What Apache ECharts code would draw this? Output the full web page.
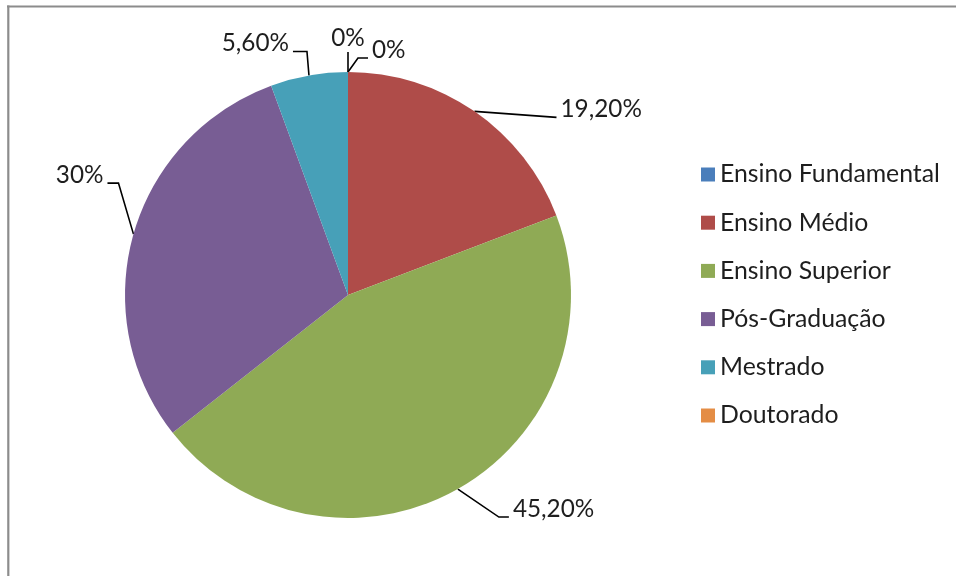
<!DOCTYPE html>
<html>
<head>
<meta charset="utf-8">
<script src="https://cdn.jsdelivr.net/npm/echarts@6/dist/echarts.min.js"></script>
<style>
html,body{margin:0;padding:0;background:#fff;}
#chart{width:956px;height:576px;}
</style>
</head>
<body>
<div id="chart"></div>
<script>
// ---- data ----
const categories = ['Ensino Fundamental', 'Ensino Médio', 'Ensino Superior', 'Pós-Graduação', 'Mestrado', 'Doutorado'];
const values = [0, 19.2, 45.2, 30, 5.6, 0];
const colors = ['#4A7EBB', '#AF4C49', '#8FAA55', '#785D94', '#47A0B8', '#E48D45'];

// leader-line shapes (bend from slice edge, horizontal run, label side)
const guides = [
  { bx: 0,   by: -20, h: 0,   side: 'top' },
  { bx: 82,  by: 6,   h: 0,   side: 'right' },
  { bx: 41,  by: 28,  h: 10,  side: 'right' },
  { bx: -15, by: -51, h: -11, side: 'left' },
  { bx: -2,  by: -24, h: -14, side: 'left' },
  { bx: 10,  by: -14, h: 10,  side: 'right' }
];

function fmt(v) {
  if (Number.isInteger(v)) return v + '%';
  return v.toFixed(2).replace('.', ',') + '%';
}

const chart = echarts.init(document.getElementById('chart'), null, { renderer: 'canvas' });
chart.setOption({
  animation: false,
  backgroundColor: '#ffffff',
  color: colors,
  graphic: [
    { type: 'line', shape: { x1: 7, y1: 6.5, x2: 956, y2: 6.5 }, style: { stroke: '#8c8c8c', lineWidth: 2 } },
    { type: 'line', shape: { x1: 8.3, y1: 5.5, x2: 8.3, y2: 576 }, style: { stroke: '#8c8c8c', lineWidth: 2.2 } }
  ],
  legend: {
    orient: 'vertical',
    left: 701,
    top: 162,
    padding: 0,
    itemWidth: 14,
    itemHeight: 14,
    itemGap: 23.2,
    icon: 'rect',
    data: categories,
    textStyle: { fontFamily: 'Lato', fontSize: 24.8, color: '#1e1e1e', lineHeight: 25 }
  },
  series: [{
    type: 'pie',
    center: [348, 295],
    radius: [0, 223],
    startAngle: 90,
    clockwise: true,
    avoidLabelOverlap: false,
    data: categories.map((c, i) => ({ name: c, value: values[i] })),
    itemStyle: { borderWidth: 0 },
    emphasis: { disabled: true },
    label: {
      show: true,
      position: 'outside',
      formatter: p => fmt(p.value),
      fontFamily: 'Lato',
      fontSize: 24.3,
      color: '#1e1e1e'
    },
    labelLine: {
      show: true,
      length: 15,
      length2: 10,
      lineStyle: { color: '#000', width: 1.6 }
    },
    labelLayout: function (params) {
      const g = guides[params.dataIndex];
      const pts = params.labelLinePoints;
      if (!pts) return {};
      const p0 = pts[0];
      const p1 = [p0[0] + g.bx, p0[1] + g.by];
      const p2 = [p1[0] + g.h, p1[1]];
      let x, y, align;
      if (g.side === 'top') {
        x = p2[0]; y = p2[1] - 14; align = 'center';
      } else if (g.side === 'right') {
        x = p2[0] + 4; y = p2[1] - 8; align = 'left';
      } else {
        x = p2[0] - 4; y = p2[1] - 8; align = 'right';
      }
      return { x: x, y: y, align: align, verticalAlign: 'middle', labelLinePoints: [p0, p1, p2] };
    }
  }]
});
</script>
</body>
</html>
